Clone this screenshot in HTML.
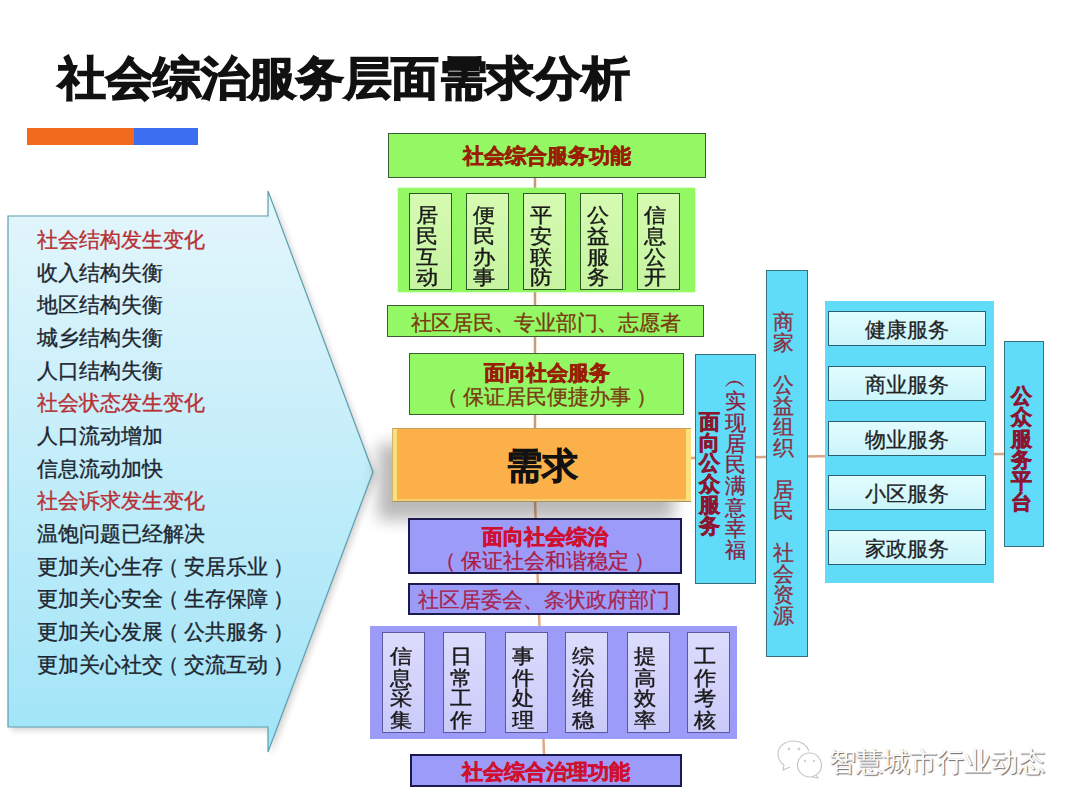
<!DOCTYPE html>
<html><head><meta charset="utf-8">
<style>
*{margin:0;padding:0;box-sizing:border-box}
html,body{width:1080px;height:810px;overflow:hidden;background:#fff}
body{position:relative;font-family:"Liberation Sans",sans-serif}
.a{position:absolute;white-space:nowrap}
.title{left:58px;top:48px;font-size:48px;letter-spacing:-0.4px;font-weight:bold;color:#111;line-height:64px;-webkit-text-stroke:1.5px #111;transform:scaleY(.96);transform-origin:0 0}
.list{left:37px;top:224px;font-size:21px;line-height:32.65px;color:#1e2630;-webkit-text-stroke:0.35px #1e2630}
.list .r{color:#b83035;-webkit-text-stroke:0.35px #b83035}
.bx{position:absolute}
.g{background:#94f764;border:1.8px solid #3c5e34}
.gi{background:linear-gradient(#d6fbb2,#c6f4a0);border:1.5px solid #2c5a24}
.p{background:#9c9cf8;border:2px solid #1a1a50}
.pi{background:linear-gradient(#dcdcfd,#cacafa);border:1.5px solid #5a5aa4}
.c{background:#60dbf8;border:1.5px solid #35707e}
.ci{background:linear-gradient(#e2fcfd,#cbf5fb);border:1.5px solid #2a6070}
.vt{position:absolute;font-size:22px;line-height:20.7px;color:#1a1a1a;text-align:center;width:24px;-webkit-text-stroke:0.45px #1a1a1a}
.lp{position:relative;left:-5px}.rp{position:relative;left:5px}
.sq{transform:scaleY(.9);transform-origin:0 0}
.ct{position:absolute;text-align:center;white-space:nowrap}
.hb{-webkit-text-stroke:0.6px currentColor}
.nb{-webkit-text-stroke:0.3px currentColor}
</style></head><body>
<div class="a title">社会综治服务层面需求分析</div>
<div class="a" style="left:27px;top:128px;width:107px;height:17px;background:#f26a1b"></div>
<div class="a" style="left:134px;top:128px;width:64px;height:17px;background:#3b6ff0"></div>

<svg class="a" style="left:0;top:0" width="1080" height="810">
<defs>
<linearGradient id="lg" x1="0" y1="0" x2="0" y2="1">
<stop offset="0" stop-color="#e4f6fb"/><stop offset="1" stop-color="#a0e4f8"/>
</linearGradient>
<filter id="sh" x="-20%" y="-20%" width="140%" height="140%"><feGaussianBlur stdDeviation="3"/></filter>
</defs>
<polygon points="11,219 271,219 271,194 376,475 271,755 271,730 11,730" fill="#000" opacity="0.18" filter="url(#sh)"/>
<polygon points="8,216 268,216 268,191 373,472 268,752 268,727 8,727" fill="url(#lg)" stroke="#5a9fb0" stroke-width="1.2"/>
<line x1="535" y1="178" x2="535" y2="503" stroke="#c89a78" stroke-width="2.5"/><line x1="535" y1="502" x2="544" y2="754" stroke="#e0aa86" stroke-width="2.5"/>
<line x1="691" y1="458" x2="1004" y2="454" stroke="#d8a886" stroke-width="2.5"/>
</svg>

<div class="a list">
<div class="r">社会结构发生变化</div>
<div>收入结构失衡</div>
<div>地区结构失衡</div>
<div>城乡结构失衡</div>
<div>人口结构失衡</div>
<div class="r">社会状态发生变化</div>
<div>人口流动增加</div>
<div>信息流动加快</div>
<div class="r">社会诉求发生变化</div>
<div>温饱问题已经解决</div>
<div>更加关心生存<span class="lp">（</span>安居乐业<span class="rp">）</span></div>
<div>更加关心安全<span class="lp">（</span>生存保障<span class="rp">）</span></div>
<div>更加关心发展<span class="lp">（</span>公共服务<span class="rp">）</span></div>
<div>更加关心社交<span class="lp">（</span>交流互动<span class="rp">）</span></div>
</div>

<!-- green -->
<div class="bx g" style="left:388px;top:133px;width:318px;height:45px;border-width:1.5px"></div>
<div class="ct hb" style="left:388px;top:141px;width:318px;font-size:21px;line-height:30px;font-weight:bold;color:#981e04">社会综合服务功能</div>
<div class="bx" style="left:398px;top:188px;width:297px;height:104px;background:#94f764;box-shadow:0 0 2px #94f764"></div>
<div class="bx gi" style="left:409px;top:193px;width:43px;height:97px"></div>
<div class="bx gi" style="left:466px;top:193px;width:43px;height:97px"></div>
<div class="bx gi" style="left:523px;top:193px;width:43px;height:97px"></div>
<div class="bx gi" style="left:580px;top:193px;width:43px;height:97px"></div>
<div class="bx gi" style="left:637px;top:193px;width:43px;height:97px"></div>
<div class="vt sq" style="left:415px;top:205px;line-height:23px">居<br>民<br>互<br>动</div>
<div class="vt sq" style="left:472px;top:205px;line-height:23px">便<br>民<br>办<br>事</div>
<div class="vt sq" style="left:529px;top:205px;line-height:23px">平<br>安<br>联<br>防</div>
<div class="vt sq" style="left:586px;top:205px;line-height:23px">公<br>益<br>服<br>务</div>
<div class="vt sq" style="left:643px;top:205px;line-height:23px">信<br>息<br>公<br>开</div>
<div class="bx g" style="left:387px;top:305px;width:317px;height:32px"></div>
<div class="ct nb" style="left:387px;top:308px;width:317px;font-size:20.5px;letter-spacing:-0.25px;line-height:30px;color:#7a3a10">社区居民、专业部门、志愿者</div>
<div class="bx g" style="left:409px;top:353px;width:275px;height:62px"></div>
<div class="ct nb" style="left:409px;top:360.5px;width:275px;font-size:21px;line-height:24.5px;color:#7a3a10"><b class="hb" style="color:#981e04">面向社会服务</b><br><span class="lp">（</span>保证居民便捷办事<span class="rp">）</span></div>

<!-- orange -->
<div class="bx" style="left:378px;top:444px;width:296px;height:76px;background:#000;opacity:.27;filter:blur(8px)"></div>
<div class="bx" style="left:392px;top:428px;width:299px;height:74px;background:#fbb04a;border-top:1.5px solid #c8a058;border-bottom:1.5px solid #a89060;border-left:1px solid #d8b070;box-shadow:inset 4px 0 0 #f8e07c, inset -5px 0 0 #fde080, inset 0 -2px 0 #f4d070"></div>
<div class="ct hb" style="left:392px;top:441px;width:300px;font-size:36px;line-height:50px;font-weight:bold;color:#111">需求</div>

<!-- purple -->
<div class="bx p" style="left:408px;top:518px;width:274px;height:56px"></div>
<div class="ct nb" style="left:408px;top:524.5px;width:274px;font-size:21px;line-height:24.5px;color:#ac1a44"><b class="hb" style="color:#d01030">面向社会综治</b><br><span class="lp">（</span>保证社会和谐稳定<span class="rp">）</span></div>
<div class="bx p" style="left:408px;top:583px;width:272px;height:32px"></div>
<div class="ct nb" style="left:408px;top:585px;width:272px;font-size:20.7px;line-height:30px;color:#a82450">社区居委会、条状政府部门</div>
<div class="bx" style="left:370px;top:626px;width:367px;height:113px;background:#9c9cf8"></div>
<div class="bx pi" style="left:382px;top:632px;width:43px;height:101px"></div>
<div class="bx pi" style="left:443px;top:632px;width:43px;height:101px"></div>
<div class="bx pi" style="left:505px;top:632px;width:43px;height:101px"></div>
<div class="bx pi" style="left:565px;top:632px;width:43px;height:101px"></div>
<div class="bx pi" style="left:627px;top:632px;width:43px;height:101px"></div>
<div class="bx pi" style="left:687px;top:632px;width:43px;height:101px"></div>
<div class="vt sq" style="left:389px;top:646px;line-height:23.6px">信<br>息<br>采<br>集</div>
<div class="vt sq" style="left:449px;top:646px;line-height:23.6px">日<br>常<br>工<br>作</div>
<div class="vt sq" style="left:511px;top:646px;line-height:23.6px">事<br>件<br>处<br>理</div>
<div class="vt sq" style="left:571px;top:646px;line-height:23.6px">综<br>治<br>维<br>稳</div>
<div class="vt sq" style="left:633px;top:646px;line-height:23.6px">提<br>高<br>效<br>率</div>
<div class="vt sq" style="left:693px;top:646px;line-height:23.6px">工<br>作<br>考<br>核</div>
<div class="bx p" style="left:410px;top:754px;width:272px;height:33px"></div>
<div class="ct hb" style="left:410px;top:757px;width:272px;font-size:20.7px;line-height:30px;font-weight:bold;color:#d01030">社会综合治理功能</div>

<!-- cyan -->
<div class="bx c" style="left:695px;top:354px;width:61px;height:230px"></div>
<div class="vt hb" style="left:697px;top:412px;font-weight:bold;color:#8c1530;line-height:20.7px;font-size:21px">面<br>向<br>公<br>众<br>服<br>务</div>
<div class="vt nb" style="left:723px;top:369px;color:#8a2040;line-height:21.3px;font-size:21px">︵<br>实<br>现<br>居<br>民<br>满<br>意<br>幸<br>福</div>
<div class="bx c" style="left:766px;top:270px;width:42px;height:387px"></div>
<div class="vt nb" style="left:771px;top:311px;color:#8a3040;line-height:21px;font-size:21px">商<br>家<br><br>公<br>益<br>组<br>织<br><br>居<br>民<br><br>社<br>会<br>资<br>源</div>
<div class="bx" style="left:825px;top:301px;width:169px;height:282px;background:#60dbf8"></div>
<div class="bx ci" style="left:828px;top:311px;width:158px;height:35px"></div>
<div class="bx ci" style="left:828px;top:366px;width:158px;height:35px"></div>
<div class="bx ci" style="left:828px;top:421px;width:158px;height:35px"></div>
<div class="bx ci" style="left:828px;top:475px;width:158px;height:35px"></div>
<div class="bx ci" style="left:828px;top:530px;width:158px;height:35px"></div>
<div class="ct nb" style="left:828px;top:315px;width:158px;font-size:21px;line-height:30px;color:#222">健康服务</div>
<div class="ct nb" style="left:828px;top:370px;width:158px;font-size:21px;line-height:30px;color:#222">商业服务</div>
<div class="ct nb" style="left:828px;top:425px;width:158px;font-size:21px;line-height:30px;color:#222">物业服务</div>
<div class="ct nb" style="left:828px;top:479px;width:158px;font-size:21px;line-height:30px;color:#222">小区服务</div>
<div class="ct nb" style="left:828px;top:534px;width:158px;font-size:21px;line-height:30px;color:#222">家政服务</div>
<div class="bx c" style="left:1004px;top:341px;width:40px;height:206px"></div>
<div class="vt hb" style="left:1009px;top:385px;font-weight:bold;color:#8c1530;line-height:21.3px;font-size:21px">公<br>众<br>服<br>务<br>平<br>台</div>

<!-- watermark -->
<svg class="a" style="left:770px;top:735px" width="60" height="50">
<g fill="none" stroke="#999" stroke-width="1.1" opacity="0.55">
<path d="M14,30 C10,27 8,23 8,19 C8,11 15,6 24,6 C31,6 37,10 39,16"/>
<path d="M14,30 L13,35 L20,32"/>
<circle cx="39.5" cy="30" r="12"/>
<path d="M46,40 L48,43 L42,42"/>
</g>
<g fill="#999" opacity="0.45"><circle cx="19" cy="14" r="1.4"/><circle cx="29" cy="14" r="1.4"/><circle cx="35" cy="26" r="1.2"/><circle cx="44" cy="26" r="1.2"/></g>
</svg>
<div class="ct" style="left:829px;top:743.5px;font-size:26.5px;line-height:36px;color:#fff;text-shadow:1px 1px 1px #666, -0.5px -0.5px 0.5px #bbb">智慧城市行业动态</div>
</body></html>
